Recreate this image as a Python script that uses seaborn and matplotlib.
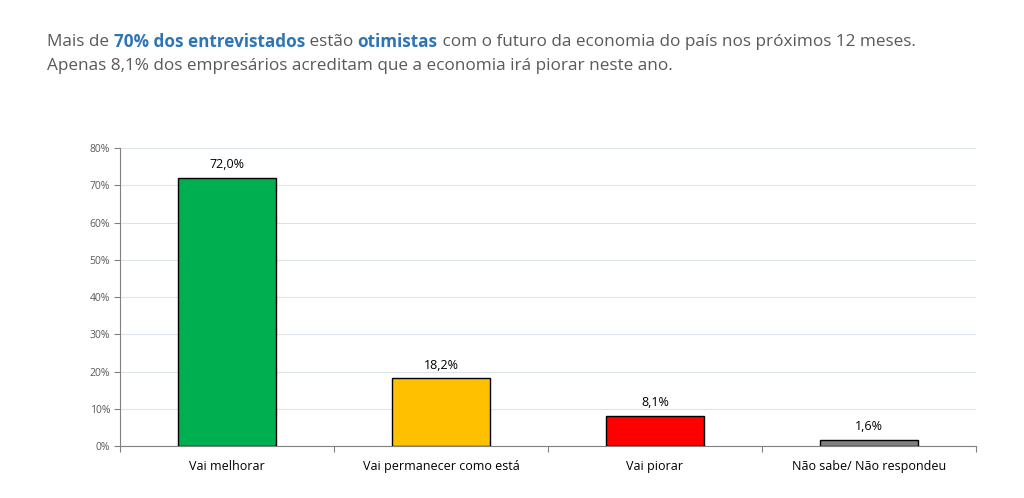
import matplotlib
matplotlib.use("Agg")
import matplotlib.pyplot as plt
import seaborn as sns
import numpy as np
import pandas as pd

categorias = ["Vai melhorar", "Vai permanecer como está", "Vai piorar", "Não sabe/ Não respondeu"]
valores = [72.0, 18.2, 8.1, 1.6]
cores = ["#00B050", "#FFC000", "#FF0000", "#808080"]
yticks = [0, 10, 20, 30, 40, 50, 60, 70, 80]

titulo1 = [("Mais de ", False), ("70% dos entrevistados", True), (" estão ", False),
           ("otimistas", True), (" com o futuro da economia do país nos próximos 12 meses.", False)]
titulo2 = "Apenas 8,1% dos empresários acreditam que a economia irá piorar neste ano."

df = pd.DataFrame({"cat": categorias, "val": valores})

sns.set_style("white")
plt.rcParams['font.family'] = ['Open Sans', 'DejaVu Sans']

fig = plt.figure(figsize=(10.24, 4.98), dpi=100)
ax = fig.add_axes([120/1024, 1-446/498, (976-120)/1024, (446-148)/498])

sns.barplot(data=df, x="cat", y="val", hue="cat", palette=cores, width=0.46, saturation=1,
            edgecolor="black", linewidth=1, legend=False, ax=ax, zorder=3)

ax.set_ylim(0, 80)
ax.set_xlim(-0.5, len(categorias)-0.5)
ax.set_yticks(yticks)
ax.set_yticklabels([f"{t}%" for t in yticks], fontsize=7.5, color="#595959")
ax.yaxis.grid(True, color="#DCE3EA", linewidth=0.8, zorder=0)
ax.tick_params(axis="y", length=4, width=0.8, color="#808080", left=True, pad=3)

# rótulos no centro, marcas nas divisões
ax.set_xticks(range(len(categorias)))
ax.set_xticklabels(categorias, fontsize=9, color="black")
ax.tick_params(axis="x", which="major", length=0, pad=10)
ax.set_xticks(np.arange(-0.5, len(categorias)), minor=True)
ax.tick_params(axis="x", which="minor", length=4, width=0.8, color="#808080", bottom=True)
ax.set_xlabel("")
ax.set_ylabel("")

for s in ["top", "right"]:
    ax.spines[s].set_visible(False)
for s in ["left", "bottom"]:
    ax.spines[s].set_color("#808080")
    ax.spines[s].set_linewidth(0.8)

for i, v in enumerate(valores):
    ax.text(i, v + 1.8, f"{v:.1f}%".replace(".", ","), ha="center", va="bottom",
            fontsize=9, color="black")

# título com partes em negrito
fig.canvas.draw()
r = fig.canvas.get_renderer()
x = 47
for txt, bold in titulo1:
    t = fig.text(x/1024, 1-42/498, txt, fontsize=12.3, va="center", ha="left",
                 color="#2E75B6" if bold else "#595959",
                 fontweight="bold" if bold else "normal")
    bb = t.get_window_extent(renderer=r)
    x += bb.width
fig.text(47/1024, 1-66/498, titulo2, fontsize=12.3, va="center", ha="left", color="#595959")

fig.savefig("out.png", dpi=100, facecolor="white")
